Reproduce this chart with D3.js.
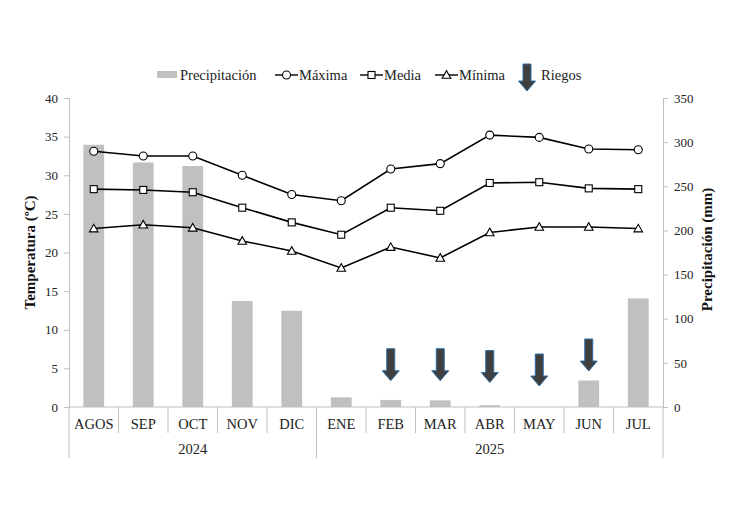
<!DOCTYPE html>
<html><head><meta charset="utf-8">
<script src="https://cdn.jsdelivr.net/npm/d3@7"></script>
<style>
body{margin:0;background:#fff;}
svg{display:block;font-family:"Liberation Serif","Times New Roman",serif;}
</style></head>
<body><svg id="c" width="742" height="512"></svg>
<script>
const months = ["AGOS","SEP","OCT","NOV","DIC","ENE","FEB","MAR","ABR","MAY","JUN","JUL"];
const years = [{label:"2024", from:0, to:4},{label:"2025", from:5, to:11}];
const precip = [297, 277, 273, 120, 109, 11, 8, 7.5, 2, 0, 30, 123];
const tMax = [33.1, 32.5, 32.5, 30.0, 27.5, 26.7, 30.8, 31.5, 35.2, 34.9, 33.4, 33.3];
const tMed = [28.2, 28.1, 27.8, 25.8, 23.9, 22.3, 25.8, 25.4, 29.0, 29.1, 28.3, 28.2];
const tMin = [23.1, 23.6, 23.2, 21.5, 20.2, 18.0, 20.7, 19.3, 22.6, 23.3, 23.3, 23.1];
const riegos = [{m:"FEB", top:66},{m:"MAR", top:66},{m:"ABR", top:64},{m:"MAY", top:60},{m:"JUN", top:77}];
const tempTicks = [0,5,10,15,20,25,30,35,40];
const precTicks = [0,50,100,150,200,250,300,350];

const svg = d3.select("#c");
const L = 69, R = 663, T = 98, B = 407;
const x = d3.scaleBand().domain(months).range([L, R]).paddingInner(0).paddingOuter(0);
const yT = d3.scaleLinear().domain([0,40]).range([B, T]);
const yP = d3.scaleLinear().domain([0,350]).range([B, T]);
const axisCol = "#bfbfbf", txtCol = "#222";

// bars
const bw = x.bandwidth()*0.42;
svg.append("g").selectAll("rect").data(months).join("rect")
  .attr("x", (d)=>x(d)+x.bandwidth()/2-bw/2)
  .attr("y", (d,i)=>yP(precip[i]))
  .attr("width", bw)
  .attr("height", (d,i)=>B-yP(precip[i]))
  .attr("fill", "#c0c0c0");

// left axis
const gl = svg.append("g").attr("transform",`translate(${L},0)`)
  .call(d3.axisLeft(yT).tickValues(tempTicks).tickSize(5).tickPadding(6));
gl.select(".domain").attr("stroke", axisCol);
gl.selectAll(".tick line").attr("stroke", axisCol);
gl.selectAll(".tick text").attr("font-size", 13).attr("fill", txtCol).attr("font-family","Liberation Serif, serif");

// right axis
const gr = svg.append("g").attr("transform",`translate(${R},0)`)
  .call(d3.axisRight(yP).tickValues(precTicks).tickSize(5).tickPadding(6));
gr.select(".domain").attr("stroke", axisCol);
gr.selectAll(".tick line").attr("stroke", axisCol);
gr.selectAll(".tick text").attr("font-size", 13).attr("fill", txtCol).attr("font-family","Liberation Serif, serif");

// bottom category axis
svg.append("line").attr("x1",L).attr("x2",R).attr("y1",B).attr("y2",B).attr("stroke",axisCol);
const sepIdx = d3.range(0, months.length+1);
svg.append("g").selectAll("line").data(sepIdx).join("line")
  .attr("x1", i=> i<months.length ? x(months[i]) : R)
  .attr("x2", i=> i<months.length ? x(months[i]) : R)
  .attr("y1", B)
  .attr("y2", i=> (i===0 || i===months.length || years.some(y=>y.from===i)) ? 458 : 433)
  .attr("stroke", axisCol);
svg.append("g").selectAll("text").data(months).join("text")
  .attr("x", d=>x(d)+x.bandwidth()/2).attr("y", 429)
  .attr("text-anchor","middle").attr("font-size",14.5).attr("fill",txtCol).text(d=>d);
svg.append("g").selectAll("text").data(years).join("text")
  .attr("x", d=>(x(months[d.from]) + x(months[d.to])+x.bandwidth())/2).attr("y", 454)
  .attr("text-anchor","middle").attr("font-size",14.5).attr("fill",txtCol).text(d=>d.label);

// axis titles
svg.append("text").attr("transform",`translate(35,${(T+B)/2}) rotate(-90)`)
  .attr("text-anchor","middle").attr("font-size",15).attr("font-weight","bold").attr("fill","#111")
  .text("Temperatura (ºC)");
svg.append("text").attr("transform",`translate(712,${(T+B)/2-3}) rotate(-90)`)
  .attr("text-anchor","middle").attr("font-size",15).attr("font-weight","bold").attr("fill","#111")
  .text("Precipitación (mm)");

// lines
const cx = d=>x(d)+x.bandwidth()/2;
const series = [
  {name:"Máxima", vals:tMax, sym:"circle"},
  {name:"Media", vals:tMed, sym:"square"},
  {name:"Mínima", vals:tMin, sym:"triangle"}
];
function marker(g, sym, px, py){
  if(sym==="circle") g.append("circle").attr("cx",px).attr("cy",py).attr("r",4)
      .attr("fill","#fff").attr("stroke","#000").attr("stroke-width",1.1);
  else if(sym==="square") g.append("rect").attr("x",px-3.5).attr("y",py-3.5).attr("width",7).attr("height",7)
      .attr("fill","#fff").attr("stroke","#000").attr("stroke-width",1.1);
  else g.append("path").attr("d",`M${px-4.3},${py+3.3}L${px+4.3},${py+3.3}L${px},${py-4.3}Z`)
      .attr("fill","#fff").attr("stroke","#000").attr("stroke-width",1.1);
}
series.forEach(s=>{
  const line = d3.line().x((d,i)=>cx(months[i])).y(d=>yT(d));
  svg.append("path").attr("d", line(s.vals)).attr("fill","none").attr("stroke","#000").attr("stroke-width",1.6);
  const g = svg.append("g");
  s.vals.forEach((v,i)=>marker(g, s.sym, cx(months[i]), yT(v)));
});

// arrows
function arrow(g, px, ytop, ytip){
  const sw=4, hw=8.5, hh=10;
  const d = `M${px-sw},${ytop}L${px+sw},${ytop}L${px+sw},${ytip-hh}L${px+hw},${ytip-hh}L${px},${ytip}L${px-hw},${ytip-hh}L${px-sw},${ytip-hh}Z`;
  g.append("path").attr("d",d).attr("fill","#3f3f3f").attr("stroke","#2e6da4").attr("stroke-width",1).attr("stroke-linejoin","miter");
}
const ga = svg.append("g");
riegos.forEach(r=>{
  const px = cx(r.m), yt = yP(r.top);
  arrow(ga, px, yt, yt+32);
});

// legend
const lg = svg.append("g").attr("font-size",14.5).attr("fill",txtCol);
const ly = 75;
lg.append("rect").attr("x",157).attr("y",ly-4).attr("width",20).attr("height",7).attr("fill","#c0c0c0");
lg.append("text").attr("x",180).attr("y",ly+5).text("Precipitación");
const legItems = [{s:series[0], x0:275},{s:series[1], x0:360},{s:series[2], x0:435}];
legItems.forEach(it=>{
  lg.append("line").attr("x1",it.x0).attr("x2",it.x0+23).attr("y1",ly).attr("y2",ly).attr("stroke","#000").attr("stroke-width",1.4);
  marker(lg, it.s.sym, it.x0+11.5, ly);
  lg.append("text").attr("x",it.x0+24).attr("y",ly+5).text(it.s.name);
});
arrow(lg, 527, 64, 91);
lg.append("text").attr("x",541).attr("y",ly+5).text("Riegos");
</script></body></html>
